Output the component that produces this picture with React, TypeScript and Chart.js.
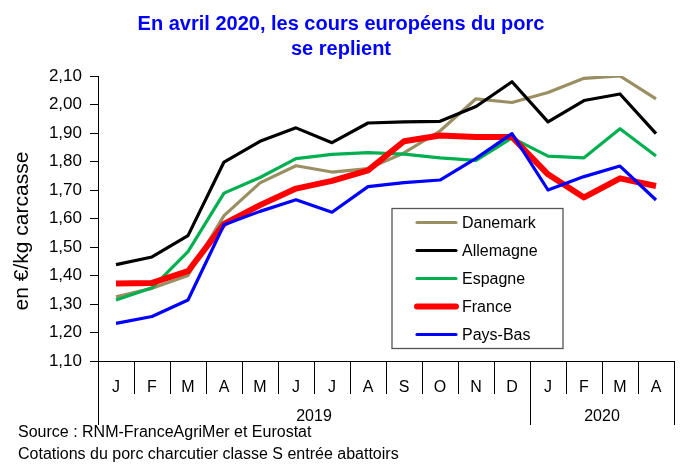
import { useEffect, useRef } from "react";
import { Chart, registerables } from "chart.js";

Chart.register(...registerables);

const months = ["J", "F", "M", "A", "M", "J", "J", "A", "S", "O", "N", "D", "J", "F", "M", "A"];
const years = ["2019", "2020"];
const yearSpans = [12, 4];

const seriesNames = ["Danemark", "Allemagne", "Espagne", "France", "Pays-Bas"];
const danemark = [1.325, 1.355, 1.40, 1.61, 1.725, 1.785, 1.763, 1.775, 1.83, 1.907, 2.02, 2.007, 2.042, 2.092, 2.10, 2.02];
const allemagne = [1.438, 1.465, 1.54, 1.798, 1.871, 1.918, 1.866, 1.935, 1.939, 1.941, 1.993, 2.08, 1.939, 2.014, 2.037, 1.898];
const espagne = [1.314, 1.357, 1.484, 1.689, 1.744, 1.81, 1.825, 1.831, 1.826, 1.813, 1.804, 1.883, 1.819, 1.813, 1.915, 1.819];
const france = [1.372, 1.374, 1.415, 1.581, 1.647, 1.705, 1.732, 1.769, 1.871, 1.891, 1.886, 1.886, 1.755, 1.674, 1.741, 1.714];
const paysBas = [1.232, 1.256, 1.314, 1.578, 1.625, 1.666, 1.622, 1.712, 1.726, 1.735, 1.811, 1.898, 1.70, 1.747, 1.784, 1.665];

const yMin = 1.1;
const yMax = 2.1;
const yStep = 0.1;

const titleLines = ["En avril 2020, les cours européens du porc", "se replient"];
const yTitle = "en €/kg carcasse";
const footerLines = ["Source : RNM-FranceAgriMer et Eurostat", "Cotations du porc charcutier classe S entrée abattoirs"];

const colors = ["#9A8F62", "#000000", "#00B050", "#FF0000", "#0000FF"];
const widths = [3.2, 3.2, 3.2, 6, 3.2];

const FONT = "'Liberation Sans', Arial, sans-serif";

const decor = {
  id: "decor",
  afterDraw(chart: any) {
    const ctx = chart.ctx as CanvasRenderingContext2D;
    const xs = chart.scales.x;
    const area = chart.chartArea;
    const step = xs.getPixelForValue(1) - xs.getPixelForValue(0);
    ctx.save();

    // category separators and year groups
    ctx.strokeStyle = "#000";
    ctx.lineWidth = 1;
    const groupEdges = [0];
    yearSpans.forEach((s, i) => groupEdges.push(groupEdges[i] + s));
    for (let i = 0; i <= months.length; i++) {
      const px = Math.round(xs.getPixelForValue(i) - step / 2) + 0.5;
      const long = groupEdges.includes(i);
      ctx.beginPath();
      ctx.moveTo(px, area.bottom);
      ctx.lineTo(px, long ? area.bottom + 64 : area.bottom + 33);
      ctx.stroke();
    }
    ctx.fillStyle = "#000";
    ctx.font = `16px ${FONT}`;
    ctx.textAlign = "center";
    ctx.textBaseline = "middle";
    years.forEach((yr, i) => {
      const a = xs.getPixelForValue(groupEdges[i]) - step / 2;
      const b = xs.getPixelForValue(groupEdges[i + 1]) - step / 2;
      ctx.fillText(yr, (a + b) / 2, area.bottom + 56);
    });

    // title
    ctx.fillStyle = "#0000FF";
    ctx.font = `bold 20px ${FONT}`;
    ctx.fillText(titleLines[0], 341, 24);
    ctx.fillText(titleLines[1], 341, 49);

    // y title
    ctx.save();
    ctx.translate(22, 231);
    ctx.rotate(-Math.PI / 2);
    ctx.fillStyle = "#000";
    ctx.font = `21px ${FONT}`;
    ctx.fillText(yTitle, 0, 0);
    ctx.restore();

    // legend
    const lx = 392, ly = 208.5, lw = 171, lh = 140;
    ctx.fillStyle = "#fff";
    ctx.fillRect(lx, ly, lw, lh);
    ctx.strokeStyle = "#555";
    ctx.lineWidth = 1.3;
    ctx.strokeRect(lx, ly, lw, lh);
    ctx.font = `16px ${FONT}`;
    ctx.textAlign = "left";
    chart.data.datasets.forEach((ds: any, i: number) => {
      const ry = ly + 14 + i * 28;
      ctx.strokeStyle = ds.borderColor;
      ctx.lineWidth = ds.borderWidth;
      ctx.lineCap = "round";
      ctx.beginPath();
      ctx.moveTo(lx + 25, ry);
      ctx.lineTo(lx + 64, ry);
      ctx.stroke();
      ctx.fillStyle = "#000";
      ctx.fillText(ds.label, lx + 70, ry + 1);
    });

    // footer
    ctx.font = `16px ${FONT}`;
    ctx.fillStyle = "#000";
    ctx.fillText(footerLines[0], 18, 433);
    ctx.fillText(footerLines[1], 18, 455);

    ctx.restore();
  },
};

export default function App() {
  const ref = useRef<HTMLCanvasElement | null>(null);
  useEffect(() => {
    if (!ref.current) return;
    const all = [danemark, allemagne, espagne, france, paysBas];
    const chart = new Chart(ref.current, {
      type: "line",
      data: {
        labels: months,
        datasets: all.map((d, i) => ({
          label: seriesNames[i],
          data: d,
          borderColor: colors[i],
          backgroundColor: colors[i],
          borderWidth: widths[i],
          pointRadius: 0,
          tension: 0,
          borderJoinStyle: "round" as const,
          order: 4 - i,
        })),
      },
      options: {
        responsive: false,
        animation: false,
        layout: { padding: { top: 76, right: 9, bottom: 0, left: 0 } },
        plugins: {
          legend: { display: false },
          title: { display: false },
          tooltip: { enabled: false },
        },
        scales: {
          x: {
            type: "category",
            offset: true,
            grid: { display: false },
            border: { display: true, color: "#000", width: 1 },
            ticks: {
              color: "#000",
              font: { family: FONT, size: 16 },
              padding: 9,
              maxRotation: 0,
              autoSkip: false,
            },
            afterFit(scale: any) {
              scale.height = 104;
            },
          },
          y: {
            min: yMin,
            max: yMax,
            grid: {
              drawOnChartArea: false,
              drawTicks: true,
              tickLength: 8,
              color: "#000",
            },
            border: { display: true, color: "#000", width: 1 },
            ticks: {
              stepSize: yStep,
              color: "#000",
              font: { family: FONT, size: 17 },
              padding: 8,
              callback: (v: any) => Number(v).toFixed(2).replace(".", ","),
            },
            afterFit(scale: any) {
              scale.width = 98;
            },
          },
        },
      },
      plugins: [decor],
    });
    return () => chart.destroy();
  }, []);
  return (
    <div style={{ position: "absolute", left: 0, top: 0, width: 683, height: 465, background: "#fff" }}>
      <canvas ref={ref} width={683} height={465} style={{ width: 683, height: 465 }} />
    </div>
  );
}
